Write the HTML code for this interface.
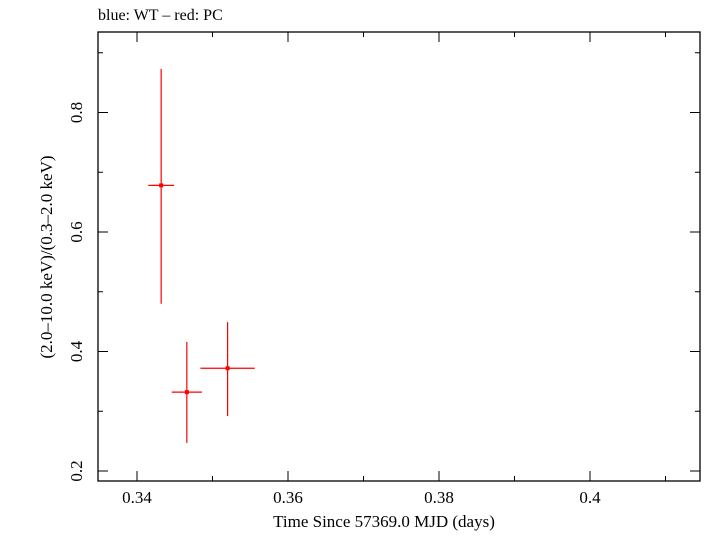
<!DOCTYPE html>
<html><head><meta charset="utf-8"><style>
body{margin:0;background:#fff}
text{font-family:"Liberation Serif",serif;fill:#000}
</style></head><body>
<svg id="c" width="705" height="532" xmlns="http://www.w3.org/2000/svg">
<text x="98" y="20" font-size="16">blue: WT – red: PC</text>
<rect x="98" y="32" width="602" height="449" fill="none" stroke="#000" stroke-width="1.3"/>
<g id="ticks"></g>
<g id="pts"></g>
<text x="384" y="527" font-size="17" text-anchor="middle">Time Since 57369.0 MJD (days)</text>
<text transform="translate(52,257) rotate(-90)" font-size="17" text-anchor="middle">(2.0–10.0 keV)/(0.3–2.0 keV)</text>
</svg>
<script>
const xVals=[0.3432,0.3466,0.3520];
const xErr=[0.0017,0.0020,0.0036];
const yVals=[0.678,0.332,0.372];
const yLo=[0.480,0.247,0.292];
const yHi=[0.873,0.416,0.449];
const xTicks=[0.34,0.36,0.38,0.40];
const xTickLabels=["0.34","0.36","0.38","0.4"];
const yTicks=[0.2,0.4,0.6,0.8];
const yTickLabels=["0.2","0.4","0.6","0.8"];
const X=v=>137+(v-0.34)*7550;
const Y=v=>471-(v-0.2)*597.5;
const NS="http://www.w3.org/2000/svg";
function mk(t,a,p){const e=document.createElementNS(NS,t);for(const k in a)e.setAttribute(k,a[k]);p.appendChild(e);return e;}
const tg=document.getElementById('ticks');
for(let k=0;k<=7;k++){const v=0.34+k*0.01;const x=X(v);const L=(k%2==0)?10:5;
 let l=mk('line',{x1:x,x2:x,y1:481,y2:481-L,stroke:'#000'},tg);
 l=mk('line',{x1:x,x2:x,y1:32,y2:32+L,stroke:'#000'},tg);}
for(let k=0;k<=7;k++){const v=0.2+k*0.1;const y=Y(v);const L=(k%2==0)?10:5;
 let l=mk('line',{x1:98,x2:98+L,y1:y,y2:y,stroke:'#000'},tg);
 l=mk('line',{x1:700,x2:700-L,y1:y,y2:y,stroke:'#000'},tg);}
xTicks.forEach((v,i)=>{const t=mk('text',{x:X(v),y:503,'font-size':17,'text-anchor':'middle'},tg);t.textContent=xTickLabels[i];
 });
yTicks.forEach((v,i)=>{const t=mk('text',{transform:`translate(82,${Y(v)}) rotate(-90)`,'font-size':17,'text-anchor':'middle'},tg);t.textContent=yTickLabels[i];
 });
const pg=document.getElementById('pts');
xVals.forEach((xv,i)=>{const g=mk('g',{},pg);
 mk('line',{x1:X(xv),x2:X(xv),y1:Y(yLo[i]),y2:Y(yHi[i]),stroke:'#f00','stroke-width':1.2},g);
 mk('line',{x1:X(xv-xErr[i]),x2:X(xv+xErr[i]),y1:Y(yVals[i]),y2:Y(yVals[i]),stroke:'#f00','stroke-width':1.2},g);
 mk('rect',{x:X(xv)-2,y:Y(yVals[i])-2,width:4,height:4,fill:'#f00'},g);});
</script>
</body></html>
